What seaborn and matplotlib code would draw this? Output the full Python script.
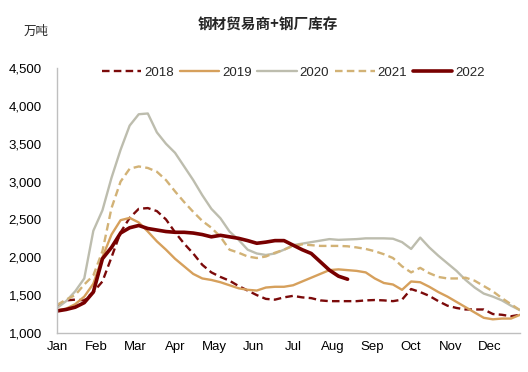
import numpy as np
import pandas as pd
import matplotlib
matplotlib.use("Agg")
import matplotlib.pyplot as plt
import seaborn as sns

months = ["Jan", "Feb", "Mar", "Apr", "May", "Jun", "Jul", "Aug", "Sep", "Oct", "Nov", "Dec"]
y_ticks = [1000, 1500, 2000, 2500, 3000, 3500, 4000, 4500]

v2018 = [1360, 1430, 1440, 1430, 1540, 1680, 2000, 2330, 2520, 2640, 2650, 2610, 2500, 2330,
         2180, 2050, 1900, 1800, 1740, 1690, 1620, 1560, 1500, 1450, 1440, 1470, 1490, 1470,
         1460, 1430, 1420, 1420, 1420, 1420, 1430, 1435, 1430, 1420, 1440, 1580, 1540, 1490,
         1420, 1360, 1330, 1310, 1310, 1310, 1250, 1240, 1220, 1240]
v2019 = [1300, 1320, 1380, 1480, 1650, 2000, 2300, 2490, 2520, 2460, 2340, 2210, 2100, 1980,
         1880, 1780, 1720, 1700, 1670, 1630, 1590, 1570, 1560, 1600, 1610, 1610, 1630, 1680,
         1730, 1780, 1830, 1840, 1830, 1820, 1800, 1720, 1660, 1640, 1570, 1680, 1670, 1610,
         1540, 1480, 1410, 1340, 1270, 1200, 1180, 1190, 1190, 1240]
v2020 = [1330, 1420, 1550, 1720, 2350, 2620, 3050, 3420, 3740, 3890, 3900, 3650, 3500, 3380,
         3200, 3020, 2820, 2640, 2515, 2340, 2230, 2100, 2050, 2030, 2050, 2100, 2160, 2180,
         2200, 2220, 2240, 2230, 2235, 2240, 2250, 2250, 2250, 2245, 2200, 2110, 2260, 2130,
         2020, 1920, 1820, 1700, 1600, 1520, 1480, 1430, 1360, 1300]
v2021 = [1370, 1440, 1500, 1640, 1760, 2080, 2650, 3000, 3170, 3200, 3180, 3130, 3020, 2870,
         2730, 2600, 2480, 2390, 2270, 2100, 2060, 2010, 1990, 2010, 2060, 2100, 2150, 2170,
         2160, 2150, 2150, 2150, 2145, 2130, 2110, 2080, 2040, 1990, 1880, 1800, 1860, 1790,
         1740, 1720, 1720, 1730, 1690, 1620, 1550, 1460, 1380, 1300]
v2022 = [1290, 1310, 1340, 1400, 1540, 1980, 2130, 2320, 2390, 2420, 2380, 2360, 2340, 2330,
         2330, 2320, 2300, 2270, 2290, 2270, 2250, 2220, 2185, 2200, 2220, 2220, 2160, 2100,
         2050, 1940, 1830, 1750, 1710]

series = {"2018": v2018, "2019": v2019, "2020": v2020, "2021": v2021, "2022": v2022}
styles = {
    "2018": dict(color="#7B0A0A", lw=1.7, ls=(0, (3.2, 1.8))),
    "2019": dict(color="#D6A05C", lw=1.7, ls="-"),
    "2020": dict(color="#BDBDAE", lw=1.7, ls="-"),
    "2021": dict(color="#D2B276", lw=1.7, ls=(0, (3.2, 1.8))),
    "2022": dict(color="#780000", lw=2.6, ls="-"),
}

rows = []
for name, vals in series.items():
    for i, v in enumerate(vals):
        rows.append({"year": name, "x": i * 12 / 52, "value": v})
df = pd.DataFrame(rows)

sns.set_theme(style="white")
plt.rcParams["font.family"] = ["Liberation Sans", "Noto Sans CJK SC", "DejaVu Sans"]

fig = plt.figure(figsize=(5.28, 3.72), dpi=100)
ax = fig.add_axes([0.108, 0.105, 0.877, 0.712])

for name in series:
    st = styles[name]
    sns.lineplot(data=df[df["year"] == name], x="x", y="value", ax=ax, color=st["color"],
                 linewidth=st["lw"], linestyle=st["ls"], label=name, errorbar=None)

ax.set_xlim(0, 51 * 12 / 52)
ax.set_ylim(1000, 4500)
ax.set_xticks(range(12))
ax.set_xticklabels(months)
ax.set_yticks(y_ticks)
ax.set_yticklabels([f"{t:,}" for t in y_ticks])
ax.set_xlabel("")
ax.set_ylabel("")
for s in ["top", "right"]:
    ax.spines[s].set_visible(False)
for s in ["left", "bottom"]:
    ax.spines[s].set_color("#BFBFBF")
    ax.spines[s].set_linewidth(1.0)
ax.tick_params(axis="both", direction="in", length=3, color="#BFBFBF", labelsize=9.5,
               labelcolor="#000000")
ax.tick_params(axis="y", pad=11)
ax.tick_params(axis="x", pad=6)

leg = ax.legend(loc="upper center", bbox_to_anchor=(0.51, 1.025), ncol=5, frameon=False,
                fontsize=9.5, handlelength=3.0, handletextpad=0.2, columnspacing=0.45,
                borderaxespad=0)

fig.text(0.508, 0.935, "钢材贸易商+钢厂库存", ha="center", va="center", fontsize=10.5,
         fontweight="bold", family=["Noto Sans CJK SC", "DejaVu Sans"])
fig.text(0.068, 0.915, "万吨", ha="center", va="center", fontsize=9,
         family=["Noto Sans CJK SC", "DejaVu Sans"])

fig.savefig("out.png", dpi=100)
